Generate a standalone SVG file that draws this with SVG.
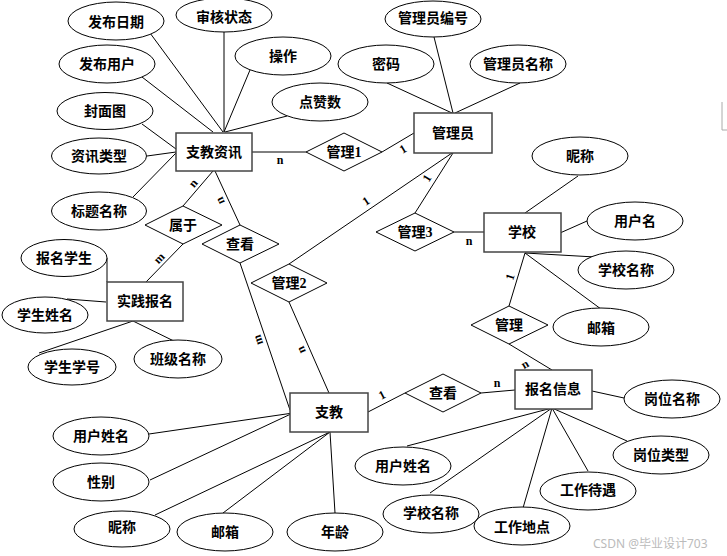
<svg xmlns="http://www.w3.org/2000/svg" width="727" height="556" viewBox="0 0 727 556">
<style>
.bg{fill:#fff}
.ent{fill:#fff;stroke:#444;stroke-width:1.5}
.rel{fill:#fff;stroke:#000;stroke-width:1}
.att{fill:#fff;stroke:#000;stroke-width:1}
.ln{stroke:#000;stroke-width:1;fill:none}
text{font-family:"Liberation Serif","Noto Sans CJK SC",serif;font-size:14px;font-weight:bold;text-anchor:middle;dominant-baseline:central;fill:#000}
.card{font-size:12px}
.wm{font-family:"Noto Sans","Noto Sans CJK SC",sans-serif;font-size:12px;font-weight:normal;fill:#bbb;text-anchor:start}
</style>
<rect class="bg" x="0" y="0" width="727" height="556"/>
<g id="connectors">
<line class="ln" x1="150" y1="33" x2="223" y2="132"/>
<line class="ln" x1="224" y1="32" x2="224" y2="132"/>
<line class="ln" x1="250" y1="70" x2="224" y2="132"/>
<line class="ln" x1="287" y1="116" x2="225" y2="132"/>
<line class="ln" x1="142" y1="77" x2="213" y2="132"/>
<line class="ln" x1="142" y1="124" x2="176" y2="149"/>
<line class="ln" x1="147" y1="156" x2="176" y2="152"/>
<line class="ln" x1="133" y1="197" x2="176" y2="153"/>
<line class="ln" x1="252" y1="152" x2="306" y2="152"/>
<line class="ln" x1="213" y1="171" x2="183" y2="206"/>
<line class="ln" x1="215" y1="171" x2="240" y2="225"/>
<line class="ln" x1="183" y1="244" x2="146" y2="282"/>
<line class="ln" x1="240" y1="263" x2="290" y2="410"/>
<line class="ln" x1="289" y1="264" x2="452" y2="153"/>
<line class="ln" x1="289" y1="302" x2="329" y2="393"/>
<line class="ln" x1="382" y1="152" x2="414" y2="133"/>
<line class="ln" x1="434" y1="37" x2="453" y2="113"/>
<line class="ln" x1="387" y1="83" x2="452" y2="113"/>
<line class="ln" x1="520" y1="83" x2="455" y2="113"/>
<line class="ln" x1="415" y1="213" x2="453" y2="153"/>
<line class="ln" x1="454" y1="232" x2="484" y2="232"/>
<line class="ln" x1="578" y1="176" x2="525" y2="213"/>
<line class="ln" x1="587" y1="221" x2="560" y2="233"/>
<line class="ln" x1="525" y1="253" x2="595" y2="257"/>
<line class="ln" x1="525" y1="253" x2="605" y2="312"/>
<line class="ln" x1="525" y1="253" x2="509" y2="306"/>
<line class="ln" x1="509" y1="344" x2="552" y2="370"/>
<line class="ln" x1="368" y1="412" x2="405" y2="393"/>
<line class="ln" x1="481" y1="393" x2="515" y2="390"/>
<line class="ln" x1="592" y1="391" x2="624" y2="398"/>
<line class="ln" x1="552" y1="408" x2="407" y2="446"/>
<line class="ln" x1="552" y1="408" x2="430" y2="493"/>
<line class="ln" x1="552" y1="408" x2="523" y2="508"/>
<line class="ln" x1="552" y1="408" x2="588" y2="471"/>
<line class="ln" x1="552" y1="408" x2="627" y2="441"/>
<line class="ln" x1="149" y1="434" x2="293" y2="413"/>
<line class="ln" x1="150" y1="480" x2="293" y2="413"/>
<line class="ln" x1="155" y1="515" x2="330" y2="432"/>
<line class="ln" x1="223" y1="513" x2="330" y2="432"/>
<line class="ln" x1="330" y1="432" x2="335" y2="513"/>
<line class="ln" x1="107" y1="258" x2="107" y2="282"/>
<line class="ln" x1="67" y1="299" x2="106" y2="302"/>
<line class="ln" x1="39" y1="353" x2="133" y2="321"/>
<line class="ln" x1="182" y1="345" x2="133" y2="321"/>
<text class="card" x="280" y="160">n</text>
<text class="card" transform="translate(193,183) rotate(-50)">n</text>
<text class="card" transform="translate(220,201) rotate(-115)">n</text>
<text class="card" transform="translate(159,258) rotate(-46)">m</text>
<text class="card" transform="translate(258,340) rotate(-108)">m</text>
<text class="card" transform="translate(301,350) rotate(-114)">n</text>
<text class="card" transform="translate(366,201) rotate(-34)">1</text>
<text class="card" transform="translate(403,149) rotate(-31)">1</text>
<text class="card" transform="translate(427,178) rotate(-58)">1</text>
<text class="card" x="469" y="241">n</text>
<text class="card" transform="translate(510,277) rotate(-73)">1</text>
<text class="card" transform="translate(525,364) rotate(-30)">n</text>
<text class="card" x="497" y="383">n</text>
<text class="card" transform="translate(382,395) rotate(-28)">1</text>
</g>
<g id="e-zjzx"><rect class="ent" x="176" y="133" width="76" height="38"/><text x="214" y="152">支教资讯</text></g>
<g id="e-gly"><rect class="ent" x="414" y="113" width="78" height="40"/><text x="453" y="133">管理员</text></g>
<g id="e-xx"><rect class="ent" x="484" y="213" width="77" height="39"/><text x="522" y="232">学校</text></g>
<g id="e-sjbm"><rect class="ent" x="107" y="282" width="76" height="39"/><text x="145" y="301">实践报名</text></g>
<g id="e-zj"><rect class="ent" x="290" y="393" width="78" height="39"/><text x="329" y="412">支教</text></g>
<g id="e-bmxx"><rect class="ent" x="515" y="370" width="77" height="39"/><text x="553" y="389">报名信息</text></g>
<g id="r-gl1"><polygon class="rel" points="306,152 344,133 382,152 344,171"/><text x="344" y="152">管理1</text></g>
<g id="r-sy"><polygon class="rel" points="145,225 183,206 222,225 183,244"/><text x="183" y="225">属于</text></g>
<g id="r-ck1"><polygon class="rel" points="202,244 240,225 279,244 240,263"/><text x="240" y="244">查看</text></g>
<g id="r-gl2"><polygon class="rel" points="251,283 289,264 327,283 289,302"/><text x="289" y="283">管理2</text></g>
<g id="r-gl3"><polygon class="rel" points="376,232 415,213 454,232 415,251"/><text x="415" y="232">管理3</text></g>
<g id="r-gl"><polygon class="rel" points="471,325 509,306 548,325 509,344"/><text x="509" y="325">管理</text></g>
<g id="r-ck2"><polygon class="rel" points="405,393 443,374 481,393 443,412"/><text x="443" y="393">查看</text></g>
<g id="a-fbrq"><ellipse class="att" cx="116" cy="21" rx="48" ry="19"/><text x="116" y="22">发布日期</text></g>
<g id="a-shzt"><ellipse class="att" cx="224" cy="15" rx="48" ry="17"/><text x="224" y="17">审核状态</text></g>
<g id="a-cz"><ellipse class="att" cx="283" cy="56" rx="48" ry="19"/><text x="283" y="56">操作</text></g>
<g id="a-dzs"><ellipse class="att" cx="320" cy="102" rx="48" ry="19"/><text x="320" y="102">点赞数</text></g>
<g id="a-fbyh"><ellipse class="att" cx="107" cy="64" rx="48" ry="19"/><text x="107" y="64">发布用户</text></g>
<g id="a-fmt"><ellipse class="att" cx="105" cy="111" rx="48" ry="18.5"/><text x="105" y="111">封面图</text></g>
<g id="a-zxlx"><ellipse class="att" cx="99" cy="156" rx="47.5" ry="18"/><text x="99" y="156">资讯类型</text></g>
<g id="a-btmc"><ellipse class="att" cx="99" cy="211" rx="47.5" ry="19"/><text x="99" y="211">标题名称</text></g>
<g id="a-glybh"><ellipse class="att" cx="433" cy="19" rx="48" ry="18"/><text x="433" y="18">管理员编号</text></g>
<g id="a-mm"><ellipse class="att" cx="386" cy="64" rx="48" ry="19"/><text x="386" y="64">密码</text></g>
<g id="a-glymc"><ellipse class="att" cx="518" cy="64" rx="48" ry="19"/><text x="518" y="64">管理员名称</text></g>
<g id="a-nc1"><ellipse class="att" cx="580" cy="156" rx="48" ry="19"/><text x="580" y="156">昵称</text></g>
<g id="a-yhm"><ellipse class="att" cx="635" cy="221" rx="48" ry="19"/><text x="635" y="221">用户名</text></g>
<g id="a-xxmc1"><ellipse class="att" cx="626" cy="270" rx="48" ry="19"/><text x="626" y="270">学校名称</text></g>
<g id="a-yx1"><ellipse class="att" cx="601" cy="327" rx="48" ry="19"/><text x="601" y="328">邮箱</text></g>
<g id="a-gwmc"><ellipse class="att" cx="672" cy="399" rx="48" ry="19"/><text x="672" y="399">岗位名称</text></g>
<g id="a-gwlx"><ellipse class="att" cx="661" cy="455" rx="48" ry="19"/><text x="661" y="455">岗位类型</text></g>
<g id="a-gzdy"><ellipse class="att" cx="588" cy="491" rx="48" ry="19"/><text x="588" y="490">工作待遇</text></g>
<g id="a-gzdd"><ellipse class="att" cx="522" cy="526" rx="48" ry="19"/><text x="522" y="527">工作地点</text></g>
<g id="a-xxmc2"><ellipse class="att" cx="431" cy="514" rx="48" ry="19"/><text x="431" y="513">学校名称</text></g>
<g id="a-yhxm2"><ellipse class="att" cx="403" cy="466" rx="48" ry="19"/><text x="403" y="466">用户姓名</text></g>
<g id="a-bmxs"><ellipse class="att" cx="64" cy="258" rx="43" ry="18.5"/><text x="64" y="258">报名学生</text></g>
<g id="a-xsxm"><ellipse class="att" cx="45" cy="315" rx="43" ry="18"/><text x="45" y="315">学生姓名</text></g>
<g id="a-xsxh"><ellipse class="att" cx="72" cy="367" rx="44" ry="18"/><text x="72" y="367">学生学号</text></g>
<g id="a-bjmc"><ellipse class="att" cx="178" cy="359" rx="44" ry="19"/><text x="178" y="359">班级名称</text></g>
<g id="a-yhxm1"><ellipse class="att" cx="101" cy="436" rx="48" ry="19"/><text x="101" y="436">用户姓名</text></g>
<g id="a-xb"><ellipse class="att" cx="101" cy="482" rx="48" ry="19"/><text x="101" y="482">性别</text></g>
<g id="a-nc2"><ellipse class="att" cx="122" cy="529" rx="48" ry="18"/><text x="122" y="527">昵称</text></g>
<g id="a-yx2"><ellipse class="att" cx="225" cy="532" rx="48" ry="19"/><text x="225" y="532">邮箱</text></g>
<g id="a-nl"><ellipse class="att" cx="335" cy="532" rx="48" ry="19"/><text x="335" y="532">年龄</text></g>
<path d="M722,102 V130 H727" fill="none" stroke="#aaa" stroke-width="1"/>
<text class="wm" x="593" y="543">CSDN @毕业设计703</text>
</svg>
